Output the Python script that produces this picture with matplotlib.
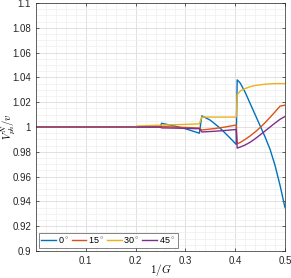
import numpy as np
import matplotlib
matplotlib.use('Agg')
import matplotlib.pyplot as plt
from matplotlib.ticker import MultipleLocator

plt.rcParams['font.family'] = ['Liberation Sans', 'DejaVu Sans']
plt.rcParams['mathtext.fontset'] = 'cm'

# 0 deg
x_0 = [0, 0.25, 0.252, 0.28, 0.30, 0.328, 0.333, 0.35, 0.37, 0.39, 0.402,
       0.404, 0.41, 0.42, 0.43, 0.44, 0.45, 0.46, 0.47, 0.48, 0.49, 0.5]
y_0 = [1.0, 1.0, 1.003, 1.0006, 0.9986, 0.995, 1.009, 1.0055, 0.999, 0.991, 0.986,
       1.038, 1.0355, 1.028, 1.019, 1.010, 1.001, 0.992, 0.982, 0.969, 0.953, 0.935]

# 15 deg
x_15 = [0, 0.25, 0.252, 0.29, 0.328, 0.333, 0.36, 0.38, 0.402,
        0.404, 0.41, 0.42, 0.43, 0.44, 0.45, 0.46, 0.47, 0.48, 0.49, 0.5]
y_15 = [1.0, 1.0, 1.0004, 0.9998, 0.9992, 0.9976, 0.9988, 1.0, 1.0016,
        0.9865, 0.9875, 0.990, 0.9928, 0.996, 0.9995, 1.0035, 1.0078, 1.0122, 1.0168, 1.0176]

# 30 deg
x_30 = [0, 0.2, 0.203, 0.25, 0.29, 0.328, 0.333, 0.402,
        0.404, 0.41, 0.42, 0.43, 0.44, 0.45, 0.46, 0.47, 0.48, 0.49, 0.5]
y_30 = [1.0, 1.0, 1.0008, 1.0015, 1.002, 1.0025, 1.008, 1.008,
        1.026, 1.029, 1.031, 1.0325, 1.0335, 1.034, 1.0345, 1.0348, 1.035, 1.035, 1.035]

# 45 deg
x_45 = [0, 0.25, 0.252, 0.29, 0.328, 0.333, 0.36, 0.38, 0.402,
        0.404, 0.41, 0.42, 0.43, 0.44, 0.45, 0.46, 0.47, 0.48, 0.49, 0.5]
y_45 = [1.0, 1.0, 0.9993, 0.999, 0.9986, 0.996, 0.9966, 0.9972, 0.998,
        0.983, 0.9838, 0.9855, 0.9877, 0.9905, 0.9936, 0.9968, 1.0, 1.0032, 1.0062, 1.0085]

labels = ['0$^\\circ$', '15$^\\circ$', '30$^\\circ$', '45$^\\circ$']
colors = ['#0072BD', '#D95319', '#EDB120', '#7E2F8E']

fig = plt.figure(figsize=(2.91, 2.78), dpi=100)
ax = fig.add_axes([36 / 291, 27 / 278, 249 / 291, 248 / 278])

for xs, ys, lab, c in zip([x_0, x_15, x_30, x_45], [y_0, y_15, y_30, y_45], labels, colors):
    ax.plot(xs, ys, color=c, lw=1.0, label=lab)

ax.set_xlim(0, 0.5)
ax.set_ylim(0.9, 1.1)
ax.set_xticks([0.1, 0.2, 0.3, 0.4, 0.5])
ax.set_xticklabels(['0.1', '0.2', '0.3', '0.4', '0.5'])
ax.set_yticks(np.round(np.arange(0.9, 1.1001, 0.02), 2))
ax.set_yticklabels(['0.9', '0.92', '0.94', '0.96', '0.98', '1', '1.02', '1.04', '1.06', '1.08', '1.1'])
ax.xaxis.set_minor_locator(MultipleLocator(0.02))
ax.yaxis.set_minor_locator(MultipleLocator(0.005))

ax.grid(True, which='major', color='#dcdcdc', lw=0.6)
ax.grid(True, which='minor', color='#efefef', lw=0.5)
ax.set_axisbelow(True)
ax.tick_params(which='both', direction='in', top=True, right=True, labelsize=7,
               colors='#262626', length=2.5, width=0.5)
ax.tick_params(which='minor', length=0)
for s in ax.spines.values():
    s.set_color('#262626')
    s.set_linewidth(0.5)

ax.set_xlabel('$1/G$', fontsize=8)
ax.xaxis.set_label_coords(0.5, -0.045)
ax.set_ylabel('$V_{ph}^N/v$', fontsize=7.5)
ax.yaxis.set_label_coords(-0.078, 0.5)

leg = ax.legend(loc='lower left', ncol=4, fontsize=6.5, handlelength=1.6, handletextpad=0.2,
                columnspacing=0.3, borderpad=0.3, borderaxespad=0.3, fancybox=False,
                edgecolor='#262626')
leg.get_frame().set_linewidth(0.5)

fig.savefig('out.png', dpi=100)
